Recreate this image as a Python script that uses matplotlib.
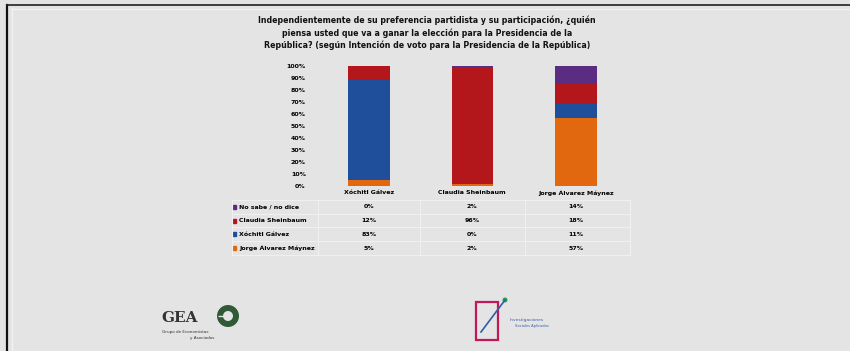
import matplotlib.pyplot as plt
from matplotlib.patches import Rectangle, Ellipse, Wedge
from matplotlib.lines import Line2D
import numpy as np

# Data
candidates = ['Xóchitl Gálvez', 'Claudia Sheinbaum', 'Jorge Álvarez Máynez']
series = ['No sabe / no dice', 'Claudia Sheinbaum', 'Xóchitl Gálvez', 'Jorge Álvarez Máynez']
no_sabe = [0, 2, 14]
sheinbaum = [12, 96, 18]
galvez = [83, 0, 11]
maynez = [5, 2, 57]
colors = ['#5a2d82', '#b3171b', '#1f4e9b', '#e2680f']

W, H = 850, 351
fig = plt.figure(figsize=(8.5, 3.51), dpi=100)
fig.patch.set_facecolor('#e4e4e4')

def fx(px):
    return px / W

def fy(py):
    return 1 - py / H

def dot(cx, cy, r, color):
    # round marker given in pixels
    fig.add_artist(Ellipse((fx(cx), fy(cy)), 2 * r / W, 2 * r / H,
                           transform=fig.transFigure, facecolor=color, edgecolor='none'))

# frame lines
fig.add_artist(Line2D([fx(7), fx(7)], [0, fy(5)], color='#111111', lw=1.6))
fig.add_artist(Line2D([fx(7), 1], [fy(5), fy(5)], color='#222222', lw=1.2))
fig.add_artist(Line2D([fx(12), fx(12)], [0, fy(8)], color='#f2f2f2', lw=1.0))
fig.add_artist(Line2D([fx(12), 1], [fy(9), fy(9)], color='#f2f2f2', lw=1.0))

# title
title = ('Independientemente de su preferencia partidista y su participación, ¿quién\n'
         'piensa usted que va a ganar la elección para la Presidencia de la\n'
         'República? (según Intención de voto para la Presidencia de la República)')
fig.text(fx(427), fy(33), title, ha='center', va='center', fontsize=5.7,
         fontweight='bold', linespacing=1.4, color='#111111')

# chart axes
ax = fig.add_axes([fx(310), fy(186), fx(635) - fx(310), fy(66) - fy(186)])
ax.set_facecolor('#e4e4e4')
x = np.arange(len(candidates))
stack = [maynez, galvez, sheinbaum, no_sabe]
stack_colors = [colors[3], colors[2], colors[1], colors[0]]
bottom = np.zeros(len(candidates))
for vals, c in zip(stack, stack_colors):
    ax.bar(x, vals, 0.4, bottom=bottom, color=c, edgecolor='none')
    bottom += np.array(vals)
ax.set_xlim(-0.57, 2.57)
ax.set_ylim(0, 100)
ax.set_yticks(range(0, 101, 10))
ax.set_yticklabels([f'{v}%' for v in range(0, 101, 10)], fontsize=4.5, fontweight='bold')
ax.tick_params(axis='y', length=0, pad=3)
ax.set_xticks([])
for s in ax.spines.values():
    s.set_visible(False)

# category labels
centers_px = [369, 472, 576]
for cx, name in zip(centers_px, candidates):
    fig.text(fx(cx), fy(193), name, ha='center', va='center', fontsize=4.5, fontweight='bold')

# data table
row_y = [207, 221, 234, 248]
table_vals = [no_sabe, sheinbaum, galvez, maynez]
col_lines = [232, 318, 420, 525, 630]
for xl in col_lines:
    fig.add_artist(Line2D([fx(xl), fx(xl)], [fy(200), fy(255)], color='#f0f0f0', lw=0.8))
for yl in [200, 214, 227, 241, 255]:
    fig.add_artist(Line2D([fx(232), fx(630)], [fy(yl), fy(yl)], color='#f0f0f0', lw=0.8))
for ry, lab, vals, c in zip(row_y, series, table_vals, colors):
    fig.add_artist(Rectangle((fx(233), fy(ry) - 0.006), fx(3), 0.012, color=c))
    fig.text(fx(239), fy(ry), lab, ha='left', va='center', fontsize=4.5, fontweight='bold')
    for cx, v in zip(centers_px, vals):
        fig.text(fx(cx), fy(ry), f'{v}%', ha='center', va='center', fontsize=4.5, fontweight='bold')

# GEA logo
fig.text(fx(161), fy(318), 'GEA', ha='left', va='center', fontsize=11, fontweight='bold',
         family='DejaVu Serif', color='#333333')
dot(228, 316, 11, '#2f5a35')
dot(228, 316, 5, '#e4e4e4')
fig.add_artist(Rectangle((fx(218), fy(316)), fx(10), 0.0001, color='#e4e4e4'))
fig.text(fx(162), fy(332), 'Grupo de Economistas', ha='left', va='center', fontsize=3, color='#333333')
fig.text(fx(190), fy(338), 'y Asociados', ha='left', va='center', fontsize=3, color='#333333')

# ISA logo
fig.add_artist(Rectangle((fx(476), fy(340)), fx(22), fy(302) - fy(340), fill=False,
                         edgecolor='#c2185b', lw=1.6))
fig.add_artist(Line2D([fx(481), fx(505)], [fy(332), fy(300)], color='#2b5fa8', lw=1.2))
dot(505, 300, 2.5, '#2a9d5a')
fig.text(fx(510), fy(320), 'Investigaciones', ha='left', va='center', fontsize=3.2, color='#3a5da8')
fig.text(fx(515), fy(326), 'Sociales Aplicadas', ha='left', va='center', fontsize=2.6, color='#3a5da8')

fig.savefig('out.png', dpi=100, facecolor=fig.get_facecolor())
